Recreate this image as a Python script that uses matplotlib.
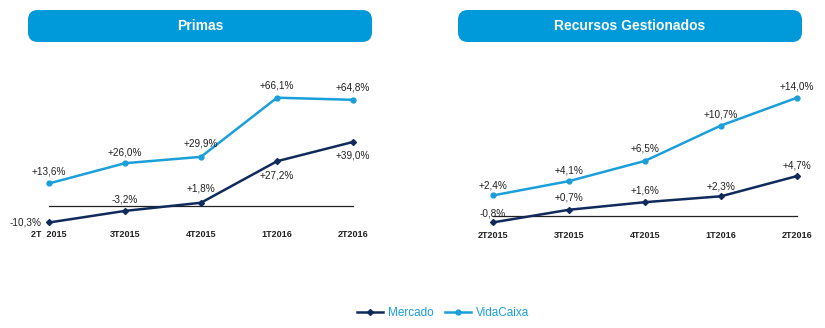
import matplotlib
matplotlib.use("Agg")
import matplotlib.pyplot as plt
from matplotlib.patches import FancyBboxPatch
from matplotlib.lines import Line2D

plt.rcParams['font.family'] = ['Liberation Sans', 'DejaVu Sans']

categories_primas = ["2T  2015", "3T2015", "4T2015", "1T2016", "2T2016"]
categories_recursos = ["2T2015", "3T2015", "4T2015", "1T2016", "2T2016"]

primas_mercado = [-10.3, -3.2, 1.8, 27.2, 39.0]
primas_vidacaixa = [13.6, 26.0, 29.9, 66.1, 64.8]
recursos_mercado = [-0.8, 0.7, 1.6, 2.3, 4.7]
recursos_vidacaixa = [2.4, 4.1, 6.5, 10.7, 14.0]

titles = ["Primas", "Recursos Gestionados"]
series_names = ["Mercado", "VidaCaixa"]

NAVY = "#102a5c"
BLUE = "#1a9fdb"
BOX = "#0099d9"

W, H = 825, 328
fig = plt.figure(figsize=(W / 100, H / 100), dpi=100)


def fmt(v):
    return f"{v:+.1f}%".replace(".", ",")


def px_axes(x0, x1, ybot, ytop):
    return fig.add_axes([x0 / W, (H - ybot) / H, (x1 - x0) / W, (ybot - ytop) / H])


def draw_panel(ax, cats, merc, vida, merc_offsets, vida_offsets, merc_ha):
    x = list(range(len(cats)))
    ax.set_xlim(0, len(cats) - 1)
    ax.axhline(0, color="#222222", lw=0.9, zorder=1, clip_on=False)
    ax.plot(x, vida, color=BLUE, lw=1.8, marker="o", ms=3.5, clip_on=False, zorder=3)
    ax.plot(x, merc, color=NAVY, lw=1.8, marker="D", ms=3, clip_on=False, zorder=3)
    for i, v in enumerate(vida):
        ax.annotate(fmt(v), (i, v), xytext=(0, vida_offsets[i]), textcoords="offset pixels",
                    ha="center", va="center", fontsize=7.2, color="#222222", annotation_clip=False)
    for i, v in enumerate(merc):
        dx, dy = merc_offsets[i]
        ax.annotate(fmt(v), (i, v), xytext=(dx, dy), textcoords="offset pixels",
                    ha=merc_ha[i], va="center", fontsize=7.2, color="#222222", annotation_clip=False)
    ax.set_axis_off()


# Left panel
axL = px_axes(49, 353, 222.5, 97.7)
axL.set_ylim(-10.3, 66.1)
draw_panel(axL, categories_primas, primas_mercado, primas_vidacaixa,
           [(-7, 0), (0, 11), (0, 14), (0, -14), (0, -14)],
           [12, 11, 13, 12, 12],
           ["right", "center", "center", "center", "center"])
for i, c in enumerate(categories_primas):
    axL.annotate(c, (i, 0), xycoords=("data", "axes fraction"), xytext=(0, -12),
                 textcoords="offset pixels", ha="center", va="center",
                 fontsize=6.5, fontweight="bold", color="#222222", annotation_clip=False)

# Right panel
axR = px_axes(493, 797, 222.4, 97.7)
axR.set_ylim(-0.8, 14.0)
draw_panel(axR, categories_recursos, recursos_mercado, recursos_vidacaixa,
           [(0, 9), (0, 12), (0, 12), (0, 10), (0, 11)],
           [10, 11, 12, 11, 11],
           ["center"] * 5)
for i, c in enumerate(categories_recursos):
    axR.annotate(c, (i, 0), xycoords=("data", "axes fraction"), xytext=(0, -13),
                 textcoords="offset pixels", ha="center", va="center",
                 fontsize=6.5, fontweight="bold", color="#222222", annotation_clip=False)

# Title boxes
for (x0, x1), t in zip([(28, 372), (458, 802)], titles):
    y0, y1 = 10, 42
    box = FancyBboxPatch((x0 / W, (H - y1) / H), (x1 - x0) / W, (y1 - y0) / H,
                         boxstyle="round,pad=0,rounding_size=0.012",
                         transform=fig.transFigure, facecolor=BOX, edgecolor="none",
                         mutation_aspect=W / H)
    fig.patches.append(box)
    fig.text((x0 + x1) / 2 / W, (H - (y0 + y1) / 2) / H, t, ha="center", va="center",
             color="white", fontsize=10, fontweight="bold")

# Legend
handles = [Line2D([], [], color=NAVY, lw=1.8, marker="D", ms=3),
           Line2D([], [], color=BLUE, lw=1.8, marker="o", ms=3.5)]
leg = fig.legend(handles, series_names, loc="center", bbox_to_anchor=(443 / W, (H - 313) / H),
                 ncol=2, frameon=False, fontsize=8.5, handlelength=2.2, handletextpad=0.4,
                 columnspacing=1.0)
for txt in leg.get_texts():
    txt.set_color(BLUE)

fig.savefig("out.png", dpi=100)
